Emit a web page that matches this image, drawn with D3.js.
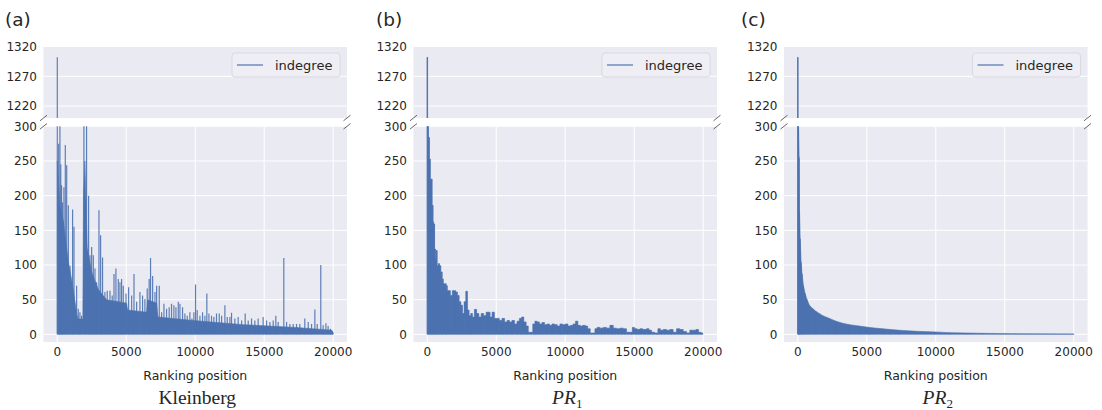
<!DOCTYPE html>
<html>
<head>
<meta charset="utf-8">
<script src="https://cdn.jsdelivr.net/npm/d3@7/dist/d3.min.js"></script>
<style>
body { margin: 0; background: #fff; }
text { font-family: "DejaVu Sans", sans-serif; fill: #262626; }
</style>
</head>
<body>
<div id="vis"></div>
<script>
var w = 1102,
    h = 410;

// ---- data ----
var panelLetters = ["(a)", "(b)", "(c)"];
var seriesName = "indegree";
var xTicks = [0, 5000, 10000, 15000, 20000];
var topTicks = [1220, 1270, 1320];
var bottomTicks = [0, 50, 100, 150, 200, 250, 300];

// Kleinberg: spike tops (rank, indegree)
var kleinbergRank = [
    0, 100, 190, 250, 310, 370, 435, 480, 580, 680,
    800, 920, 1110, 1210, 1400, 1520, 1640, 1760, 1930, 2120,
    2270, 2370, 2490, 2610, 2730, 2850, 3020, 3140, 3280, 3450,
    3620, 3820, 3980, 4110, 4250, 4420, 4540, 4660, 4780, 4980,
    5170, 5390, 5560, 5750, 5990, 6180, 6350, 6520, 6660, 6760,
    6910, 7080, 7200, 7390, 7560, 7730, 7920, 8110, 8280, 8450,
    8600, 8770, 8890, 9080, 9250, 9420, 9610, 9760, 9900, 10020,
    10140, 10340, 10530, 10700, 10840, 10990, 11180, 11350, 11540, 11740,
    11910, 12150, 12320, 12510, 12630, 12870, 13110, 13360, 13620, 13840,
    14080, 14320, 14560, 14920, 15170, 15410, 15650, 15840, 16010, 16420,
    16620, 16860, 17100, 17340, 17580, 17940, 18190, 18430, 18670, 18840,
    19100, 19270, 19470, 19630, 19800, 19950];
var kleinbergPeak = [
    1302, 275, 420, 245, 215, 190, 162, 212, 273, 244,
    186, 99, 180, 155, 70, 37, 32, 27, 460, 380,
    200, 114, 126, 114, 95, 75, 179, 143, 111, 61,
    63, 63, 56, 87, 95, 80, 75, 80, 70, 59,
    68, 56, 87, 47, 61, 56, 51, 66, 80, 110,
    84, 61, 70, 70, 32, 44, 37, 39, 44, 42,
    39, 47, 44, 39, 30, 27, 32, 23, 32, 72,
    35, 27, 32, 27, 59, 30, 27, 25, 30, 30,
    27, 42, 25, 25, 31, 23, 25, 20, 30, 20,
    23, 20, 23, 25, 20, 18, 20, 27, 18, 110,
    18, 15, 15, 15, 15, 23, 18, 15, 36, 15,
    100, 13, 16, 12, 8, 4];
// Kleinberg: level of the dense solid part
var kleinbergBandRank = [0, 190, 430, 800, 1160, 1400, 1500, 1850, 1900, 2000, 2170, 2490, 2970,
    3570, 5020, 5100, 6470, 6550, 7200, 7300, 9850, 13500, 17300, 19900, 20000];
var kleinbergBand = [250, 185, 165, 105, 65, 30, 22, 22, 200, 250, 125, 90, 65,
    50, 45, 35, 32, 50, 45, 25, 20, 14, 10, 6, 2];

// PR1
var prOneRank = [
    0, 50, 120, 190, 240, 310, 390, 435, 505, 555,
    630, 675, 750, 845, 920, 1040, 1110, 1210, 1330, 1400,
    1500, 1590, 1760, 1880, 2000, 2120, 2250, 2370, 2490, 2610,
    2730, 2850, 2970, 3090, 3210, 3330, 3500, 3650, 3820, 3990,
    4180, 4350, 4490, 4610, 4780, 4950, 5140, 5310, 5510, 5700,
    5870, 6040, 6230, 6420, 6590, 6760, 6910, 7080, 7250, 7390,
    7560, 7730, 7870, 8040, 8210, 8400, 8600, 8770, 8940, 9130,
    9320, 9520, 9710, 9900, 10100, 10290, 10480, 10670, 10820, 11010,
    11180, 11350, 11540, 11710, 11910, 12080, 12220, 12390, 12630, 12870,
    13110, 13360, 13600, 13840, 14080, 14320, 14560, 14800, 14930, 15120,
    15310, 15500, 15750, 15990, 16160, 16350, 16620, 16810, 16980, 17220,
    17460, 17700, 17940, 18190, 18430, 18670, 18910, 19150, 19390, 19560,
    19760, 19950];
var prOnePeak = [
    1302, 300, 284, 253, 222, 224, 186, 162, 159, 123,
    109, 121, 99, 102, 99, 90, 80, 73, 73, 70,
    63, 63, 56, 63, 63, 61, 56, 47, 42, 30,
    47, 62, 35, 27, 30, 25, 36, 30, 25, 30,
    27, 32, 32, 25, 32, 23, 23, 20, 23, 18,
    20, 18, 20, 15, 19, 23, 25, 18, 12, 3,
    3, 15, 19, 18, 15, 17, 14, 15, 13, 15,
    14, 12, 15, 14, 15, 12, 13, 15, 19, 13,
    12, 13, 12, 8, 2, 2, 8, 10, 9, 10,
    9, 13, 9, 8, 9, 8, 3, 3, 10, 8,
    7, 8, 7, 8, 6, 3, 2, 8, 6, 7,
    6, 7, 3, 8, 7, 4, 2, 6, 6, 7,
    3, 2];

// PR2
var prTwoRank = [0, 48, 96, 120, 170, 240, 310, 410, 530, 650, 840, 1090, 1330, 1810, 2290,
    2770, 3250, 3740, 4460, 5180, 6150, 7350, 8560, 9950, 10970, 12170, 13380, 15790, 20000];
var prTwoPeak = [1302, 300, 255, 176, 138, 104, 87, 70, 59, 51, 42, 37, 33, 27, 23,
    19, 16, 14, 12, 10, 8, 6, 4.5, 3.5, 2.5, 2, 1.5, 1, 0.7];

var zip = function(r, v) {
    return r.map(function(d, i) { return {r: d, v: v[i]}; });
};

var panels = [
    {peaks: zip(kleinbergRank, kleinbergPeak), band: zip(kleinbergBandRank, kleinbergBand), curve: d3.curveLinear},
    {peaks: zip(prOneRank, prOnePeak), band: zip(prOneRank, prOnePeak), curve: d3.curveStep},
    {peaks: zip(prTwoRank, prTwoPeak), band: zip(prTwoRank, prTwoPeak), curve: d3.curveLinear}
];

// ---- layout ----
var axLeft = [43.5, 413.5, 784],
    axWidth = 303.5,
    topY0 = 46.5, topY1 = 118,
    botY0 = 126.3, botY1 = 342,
    blue = "#4C72B0",
    bg = "#EAEAF2";

var svg = d3.select("#vis").append("svg")
    .attr("width", w)
    .attr("height", h);

var defs = svg.append("defs");

panels.forEach(function(p, i) {
    var x0 = axLeft[i], x1 = x0 + axWidth;
    var x = d3.scaleLinear().domain([-1000, 21000]).range([x0, x1]);
    var yTop = d3.scaleLinear().domain([1200, 1320]).range([topY1, topY0]);
    var yBot = d3.scaleLinear().domain([-11, 300]).range([botY1, botY0]);
    var g = svg.append("g");

    var parts = [
        {y: yTop, y0: topY0, y1: topY1, ticks: topTicks, id: "top" + i},
        {y: yBot, y0: botY0, y1: botY1, ticks: bottomTicks, id: "bot" + i}
    ];

    parts.forEach(function(s, k) {
        defs.append("clipPath").attr("id", s.id)
          .append("rect")
            .attr("x", x0).attr("y", s.y0)
            .attr("width", axWidth).attr("height", s.y1 - s.y0);

        g.append("rect")
            .attr("x", x0).attr("y", s.y0)
            .attr("width", axWidth).attr("height", s.y1 - s.y0)
            .style("fill", bg);

        // grid
        g.selectAll("line.hg" + k)
            .data(s.ticks)
          .enter().append("line")
            .attr("x1", x0).attr("x2", x1)
            .attr("y1", function(d) { return s.y(d); })
            .attr("y2", function(d) { return s.y(d); })
            .style("stroke", "#fff").style("stroke-width", 1);
        if (k == 1) {
            g.selectAll("line.vg")
                .data(xTicks)
              .enter().append("line")
                .attr("x1", function(d) { return x(d); })
                .attr("x2", function(d) { return x(d); })
                .attr("y1", s.y0).attr("y2", s.y1)
                .style("stroke", "#fff").style("stroke-width", 1);
        }

        // y tick labels
        g.selectAll("text.yt" + k)
            .data(s.ticks)
          .enter().append("text")
            .attr("x", x0 - 6.5)
            .attr("y", function(d) { return s.y(d); })
            .attr("dy", "0.36em")
            .attr("text-anchor", "end")
            .style("font-size", "12px")
            .text(function(d) { return d; });

        var clip = g.append("g").attr("clip-path", "url(#" + s.id + ")");

        var area = d3.area()
            .x(function(d) { return x(d.r); })
            .y0(s.y(0))
            .y1(function(d) { return s.y(d.v); })
            .curve(p.curve);

        clip.append("path")
            .datum(p.band)
            .attr("d", area)
            .style("fill", blue)
            .style("stroke", blue)
            .style("stroke-width", 0.6);

        clip.selectAll("line.stem")
            .data(p.peaks)
          .enter().append("line")
            .attr("x1", function(d) { return x(d.r); })
            .attr("x2", function(d) { return x(d.r); })
            .attr("y1", s.y(0))
            .attr("y2", function(d) { return s.y(d.v); })
            .style("stroke", blue)
            .style("stroke-width", 1.2)
            .style("stroke-opacity", 0.9);
    });

    // break marks
    var marks = [[x0, topY1], [x1, topY1], [x0, botY0], [x1, botY0]];
    g.selectAll("line.brk")
        .data(marks)
      .enter().append("line")
        .attr("x1", function(d) { return d[0] - 3.5; })
        .attr("y1", function(d) { return d[1] + 2.8; })
        .attr("x2", function(d) { return d[0] + 3.5; })
        .attr("y2", function(d) { return d[1] - 2.8; })
        .style("stroke", "#555")
        .style("stroke-width", 0.9);

    // x tick labels
    g.selectAll("text.xt")
        .data(xTicks)
      .enter().append("text")
        .attr("x", function(d) { return x(d); })
        .attr("y", 356)
        .attr("text-anchor", "middle")
        .style("font-size", "12px")
        .text(function(d) { return d; });

    g.append("text")
        .attr("x", (x0 + x1) / 2)
        .attr("y", 380)
        .attr("text-anchor", "middle")
        .style("font-size", "12.5px")
        .text("Ranking position");

    // legend
    var lx = x1 - 7 - 108, ly = 53;
    g.append("rect")
        .attr("x", lx).attr("y", ly)
        .attr("width", 108).attr("height", 24)
        .attr("rx", 3)
        .style("fill", "#EEEEF4")
        .style("stroke", "#D4D4DC")
        .style("stroke-width", 0.8);
    g.append("line")
        .attr("x1", lx + 5).attr("x2", lx + 31)
        .attr("y1", ly + 12).attr("y2", ly + 12)
        .style("stroke", blue)
        .style("stroke-width", 1.2);
    g.append("text")
        .attr("x", lx + 43)
        .attr("y", ly + 16.5)
        .style("font-size", "13px")
        .text(seriesName);

    // panel letter
    g.append("text")
        .attr("x", [5, 376, 741][i])
        .attr("y", 26)
        .style("font-size", "18.5px")
        .text(panelLetters[i]);

    // caption
    var cap = g.append("text")
        .attr("x", (x0 + x1) / 2 + 2)
        .attr("y", 404)
        .attr("text-anchor", "middle")
        .style("font-family", "'Liberation Serif', serif")
        .style("font-size", "19.5px");
    if (i == 0) {
        cap.text("Kleinberg");
    } else {
        cap.append("tspan").style("font-style", "italic").text("PR");
        cap.append("tspan").attr("dy", 3.5).style("font-size", "13px").text(i == 1 ? "1" : "2");
    }
});
</script>
</body>
</html>
